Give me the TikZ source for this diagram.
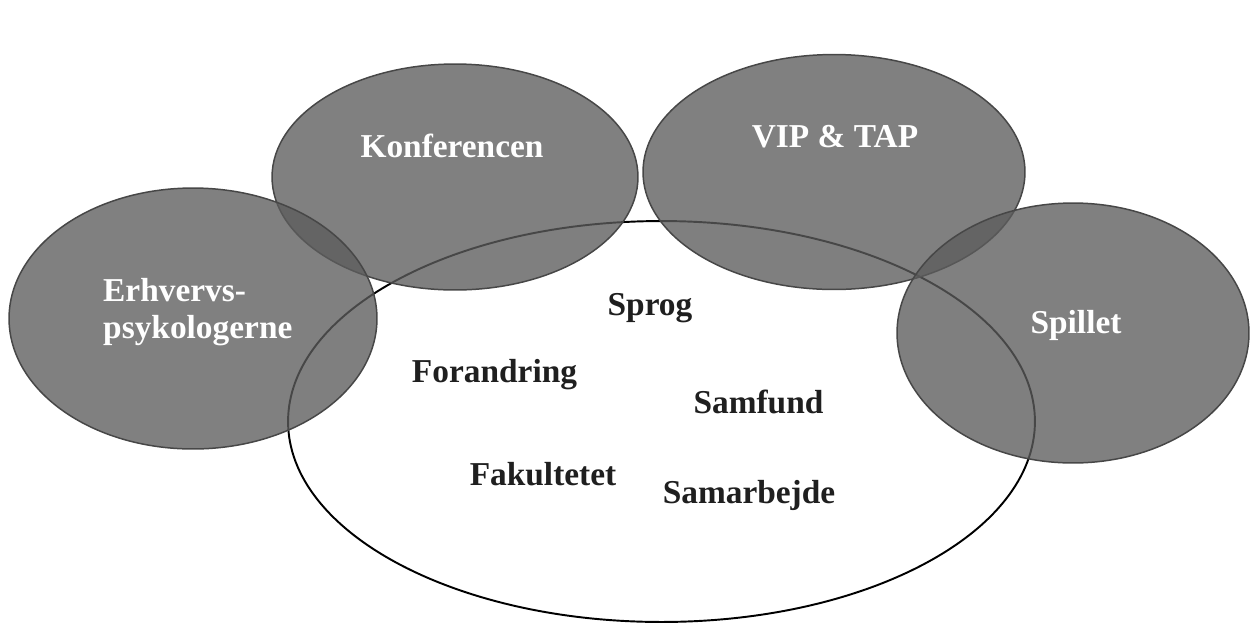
\documentclass[tikz,border=0pt]{standalone}
\usepackage{fontspec}
\setmainfont{Liberation Serif}
\usetikzlibrary{shapes.geometric}
\begin{document}
\begin{tikzpicture}[x=0.02cm,y=-0.02cm,
  blob/.style={ellipse,inner sep=0pt,outer sep=0pt,fill=black!64,fill opacity=0.78,
    draw=black!72,line width=0.85pt},
  field/.style={ellipse,inner sep=0pt,outer sep=0pt,fill=white,draw=black,line width=1.1pt},
  whitelabel/.style={anchor=base,text=white,text opacity=1,font=\fontsize{19}{20.5}\selectfont\bfseries},
  darklabel/.style={anchor=base,text=black!88,font=\fontsize{19}{20.5}\selectfont\bfseries}]
\useasboundingbox (0,0) rectangle (1250,623);
% central field
\node[field,minimum width=14.94cm,minimum height=8.02cm] (field) at (661.5,421.5) {};
% surrounding groups
\node[blob,minimum width=7.32cm,minimum height=4.52cm] (konf) at (455,177) {};
\node[blob,minimum width=7.64cm,minimum height=4.70cm] (vip) at (834,172) {};
\node[blob,minimum width=7.36cm,minimum height=5.22cm] (erhv) at (193,318.5) {};
\node[blob,minimum width=7.04cm,minimum height=5.20cm] (spil) at (1073,333) {};
% group labels
\node[whitelabel] (tkonf) at (452,157) {Konferencen};
\node[whitelabel] (tvip) at (835,147) {VIP \& TAP};
\node[whitelabel,anchor=base west,align=left] (terhv) at (97,338) {Erhvervs-\\psykologerne};
\node[whitelabel] (tspil) at (1076,333) {Spillet};
% topics inside the field
\node[darklabel] (sprog) at (650,315) {Sprog};
\node[darklabel] (forandring) at (494.5,382) {Forandring};
\node[darklabel] (samfund) at (758.5,413) {Samfund};
\node[darklabel] (fakultetet) at (543,485) {Fakultetet};
\node[darklabel] (samarbejde) at (749,503) {Samarbejde};
\end{tikzpicture}
\end{document}
